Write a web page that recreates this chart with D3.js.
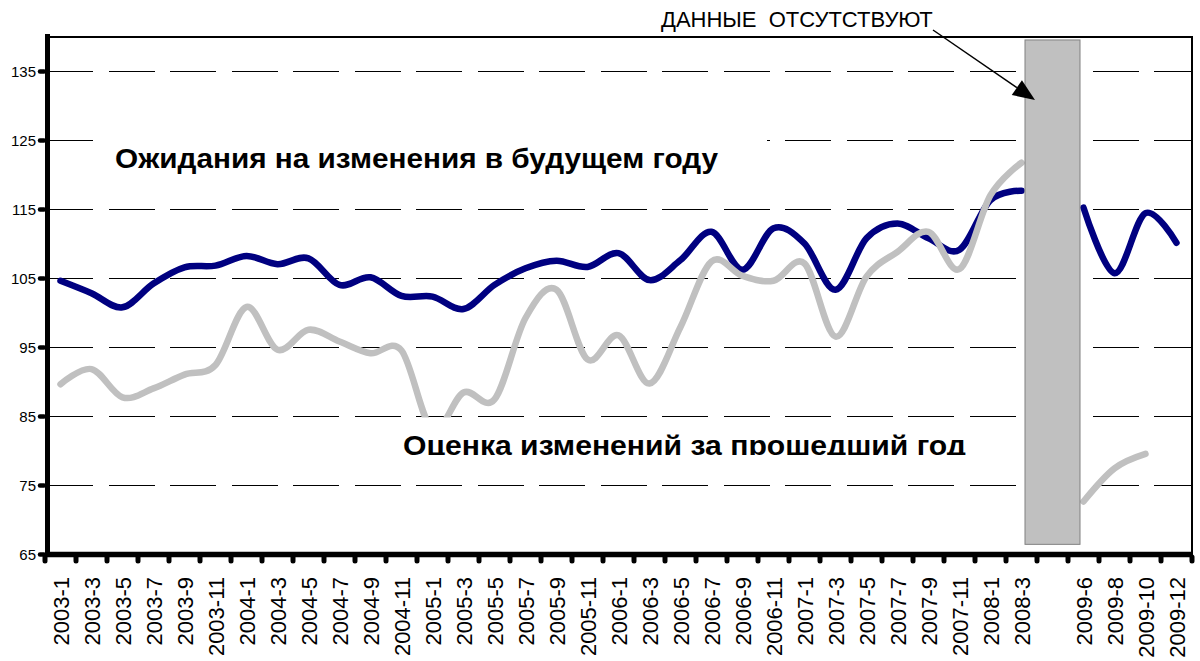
<!DOCTYPE html>
<html><head><meta charset="utf-8">
<script src="https://cdn.jsdelivr.net/npm/d3@7"></script>
<style>
body{margin:0;background:#fff}
svg{display:block}
text{font-family:"Liberation Sans",Arial,sans-serif;fill:#000}
</style>
</head><body>
<svg id="chart" width="1200" height="661"></svg>
<script>
const categories = ["2003-1","2003-3","2003-5","2003-7","2003-9","2003-11",
  "2004-1","2004-3","2004-5","2004-7","2004-9","2004-11",
  "2005-1","2005-3","2005-5","2005-7","2005-9","2005-11",
  "2006-1","2006-3","2006-5","2006-7","2006-9","2006-11",
  "2007-1","2007-3","2007-5","2007-7","2007-9","2007-11",
  "2008-1","2008-3","","2009-6","2009-8","2009-10","2009-12"];
const expectations = [104.6,102.8,100.75,104.2,106.55,106.8,108.2,107.0,107.85,104.0,105.1,102.4,
  102.3,100.5,104.0,106.4,107.5,106.6,108.6,104.7,107.6,111.7,106.2,112.2,
  110.0,103.3,110.75,112.9,110.75,109.1,116.3,117.65,null,115.2,105.7,114.4,110.1];
const assessment = [89.6,91.8,87.7,89.0,91.0,92.4,100.8,94.6,97.5,95.8,94.1,94.5,
  83.0,88.4,87.4,99.2,103.3,93.2,96.7,89.7,97.9,107.4,105.3,104.6,
  107.1,96.5,105.2,108.8,111.7,106.3,117.0,121.7,null,72.6,77.4,79.5,null];
const yTicks = [65,75,85,95,105,115,125,135];
const yDomain = [65,140];
const gapRange = [139.5,66.4];
const labelFuture = "Ожидания на изменения в будущем году";
const labelPast = "Оценка изменений за прошедший год";
const labelGap = "ДАННЫЕ  ОТСУТСТВУЮТ";

const svg = d3.select("#chart");
const L = 45, R = 1192, T = 36.5, B = 554;
const x = d3.scaleBand().domain(d3.range(categories.length)).range([L, R]).padding(0);
const y = d3.scaleLinear().domain(yDomain).range([B, T]);
const cx = i => x(i) + x.bandwidth() / 2;

// gridlines
svg.append("g").selectAll("line").data(yTicks.filter(v => v > 65)).join("line")
  .attr("x1", 47).attr("x2", R - 1).attr("y1", d => Math.round(y(d)) + 0.5).attr("y2", d => Math.round(y(d)) + 0.5)
  .attr("stroke", "#000").attr("stroke-width", 1).attr("stroke-dasharray", "46 15.5")
  .attr("shape-rendering", "crispEdges");

// frame top/right
svg.append("line").attr("x1", L).attr("x2", R + 1).attr("y1", 37).attr("y2", 37)
  .attr("stroke", "#000").attr("stroke-width", 2);
svg.append("line").attr("x1", R).attr("x2", R).attr("y1", 36).attr("y2", 557)
  .attr("stroke", "#000").attr("stroke-width", 2);

// text boxes (white)
svg.append("rect").attr("x", 97).attr("y", 128).attr("width", 670).attr("height", 52).attr("fill", "#fff");
svg.append("text").attr("x", 115).attr("y", 168).attr("font-size", 27).attr("font-weight", "bold")
  .attr("textLength", 603).attr("lengthAdjust", "spacingAndGlyphs").text(labelFuture);

// lines
const line = d3.line().defined(d => d != null).x((d, i) => cx(i)).y(d => y(d))
  .curve(d3.curveCardinal.tension(0));
svg.append("path").datum(expectations).attr("d", line).attr("fill", "none")
  .attr("stroke", "#000080").attr("stroke-width", 6.5).attr("stroke-linejoin", "round").attr("stroke-linecap", "round");
svg.append("path").datum(assessment).attr("d", line).attr("fill", "none")
  .attr("stroke", "#C0C0C0").attr("stroke-width", 6.5).attr("stroke-linejoin", "round").attr("stroke-linecap", "round");

// lower text box clipping
const defs = svg.append("defs");
defs.append("clipPath").attr("id", "lowclip").append("rect")
  .attr("x", 395).attr("y", 417.5).attr("width", 580).attr("height", 37.5);
svg.append("rect").attr("x", 395).attr("y", 417.5).attr("width", 580).attr("height", 37.5).attr("fill", "#fff");
svg.append("text").attr("clip-path", "url(#lowclip)").attr("x", 403).attr("y", 455)
  .attr("font-size", 27).attr("font-weight", "bold")
  .attr("textLength", 563).attr("lengthAdjust", "spacingAndGlyphs").text(labelPast);

// gap rectangle
const gx0 = cx(31) + 3.5, gx1 = cx(33) - 3.5;
svg.append("rect").attr("x", gx0).attr("y", y(gapRange[0])).attr("width", gx1 - gx0)
  .attr("height", y(gapRange[1]) - y(gapRange[0]))
  .attr("fill", "#C0C0C0").attr("stroke", "#808080").attr("stroke-width", 1);

// axes
svg.append("line").attr("x1", 47.5).attr("x2", 47.5).attr("y1", 34).attr("y2", 557)
  .attr("stroke", "#000").attr("stroke-width", 5);
svg.append("line").attr("x1", L).attr("x2", R + 1).attr("y1", 554.5).attr("y2", 554.5)
  .attr("stroke", "#000").attr("stroke-width", 5.5);

// y axis ticks & labels
const yAxis = d3.axisLeft(y).tickValues(yTicks).tickSize(0).tickPadding(0);
const gy = svg.append("g").attr("transform", "translate(45,0)").call(yAxis);
gy.select(".domain").remove();
gy.selectAll(".tick").append("line").attr("x1", -5).attr("x2", -1)
  .attr("stroke", "#000").attr("stroke-width", 4.5).attr("stroke-linecap", "round");
gy.selectAll(".tick text").attr("x", -9).attr("font-size", 15).attr("font-family", "Liberation Sans, Arial, sans-serif")
  .attr("fill", "#000").attr("dy", "0.35em");

// x axis
const xAxis = d3.axisBottom(x).tickSize(0).tickFormat(i => categories[i]);
const gxA = svg.append("g").attr("transform", "translate(0,577)").call(xAxis);
gxA.select(".domain").remove();
gxA.selectAll(".tick text").attr("transform", "rotate(-90)").attr("x", 0).attr("y", 0)
  .attr("dy", "0.38em").attr("text-anchor", "end").attr("font-size", 22)
  .attr("font-family", "Liberation Sans, Arial, sans-serif").attr("fill", "#000");
// tick marks between categories
svg.append("g").selectAll("line").data(d3.range(categories.length + 1)).join("line")
  .attr("x1", k => L + k * x.step()).attr("x2", k => L + k * x.step())
  .attr("y1", 557).attr("y2", 561).attr("stroke", "#000").attr("stroke-width", 5).attr("stroke-linecap", "round");

// gap annotation
svg.append("text").attr("x", 661).attr("y", 26.5).attr("font-size", 22)
  .style("white-space", "pre").text(labelGap);
const ax0 = 933, ay0 = 30, ax1 = gx0 + 10, ay1 = 100;
const dx = ax1 - ax0, dy = ay1 - ay0, len = Math.hypot(dx, dy), ux = dx / len, uy = dy / len;
const hl = 22, hw = 9;
const bx = ax1 - ux * hl, by = ay1 - uy * hl;
svg.append("line").attr("x1", ax0).attr("y1", ay0).attr("x2", bx).attr("y2", by)
  .attr("stroke", "#000").attr("stroke-width", 1.5);
svg.append("polygon").attr("points", [[ax1, ay1], [bx - uy * hw, by + ux * hw], [bx + uy * hw, by - ux * hw]].map(p => p.join(",")).join(" "))
  .attr("fill", "#000");
</script>
</body></html>
